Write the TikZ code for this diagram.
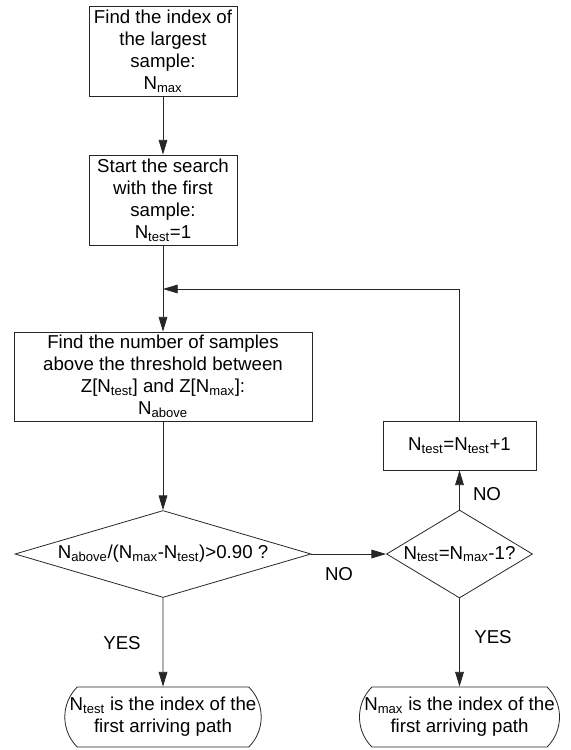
\documentclass[tikz,border=0pt]{standalone}
\usepackage{fontspec}
\setmainfont{Liberation Sans}
\usetikzlibrary{arrows.meta, shapes.geometric, shapes.misc}
\newcommand{\flowArrow}{{Triangle[length=11pt, width=6.5pt]}}

\begin{document}
\begin{tikzpicture}[x=0.75pt, y=-0.75pt, font=\fontsize{14}{16.5}\selectfont,
	box/.style={draw=black!85, line width=0.6pt, rectangle, align=center, inner sep=0pt},
	decision/.style={draw=black!85, line width=0.6pt, diamond, align=center, inner sep=0pt},
	terminal/.style={draw=black!85, line width=0.6pt, rounded rectangle, rounded rectangle arc length=90, align=center, inner sep=0pt, minimum width=146pt, minimum height=45pt},
	flow/.style={-\flowArrow, draw=black!85, line width=0.6pt}]
	\useasboundingbox (0,0) rectangle (571,750);

	% process steps
	\node[box, minimum width=111pt, minimum height=67.5pt] (max) at (163,51) {Find the index of\\the largest\\sample:\\N\textsubscript{max}};
	\node[box, minimum width=111pt, minimum height=67.5pt] (start) at (163,200) {Start the search\\with the first\\sample:\\N\textsubscript{test}=1};
	\node[box, minimum width=223.5pt, minimum height=66.75pt] (count) at (163,376.5) {Find the number of samples\\above the threshold between\\Z[N\textsubscript{test}] and Z[N\textsubscript{max}]:\\N\textsubscript{above}};
	\node[box, minimum width=114.75pt, minimum height=36.75pt] (incr) at (459.5,445.5) {N\textsubscript{test}=N\textsubscript{test}+1};

	% decisions
	\node[decision, shape aspect=3.4, minimum width=222pt, minimum height=65.25pt] (ratio) at (163,554) {N\textsubscript{above}/(N\textsubscript{max}-N\textsubscript{test})>0.90 ?};
	\node[decision, shape aspect=1.66, inner sep=-2.5pt, minimum width=109.5pt, minimum height=66pt] (last) at (459.5,554) {N\textsubscript{test}=N\textsubscript{max}-1?};

	% results
	\node[terminal] (resA) at (163,717) {N\textsubscript{test} is the index of the\\first arriving path};
	\node[terminal] (resB) at (459.5,717) {N\textsubscript{max} is the index of the\\first arriving path};

	\coordinate (loop) at (163,289);

	\draw[flow] (max) -- (start);
	\draw[flow] (start) -- (count);
	\draw[flow] (incr.north) |- (loop);
	\draw[flow] (count) -- (ratio);
	\draw[flow] (ratio.east) -- (last.west);
	\draw[flow] (last.north) -- (incr.south);
	\draw[flow] (ratio.south) -- (resA);
	\draw[flow] (last.south) -- (resB);

	\node (noA) at (339,574) {NO};
	\node (noB) at (487,494) {NO};
	\node (yesA) at (122,643) {YES};
	\node (yesB) at (493,637) {YES};
\end{tikzpicture}
\end{document}
